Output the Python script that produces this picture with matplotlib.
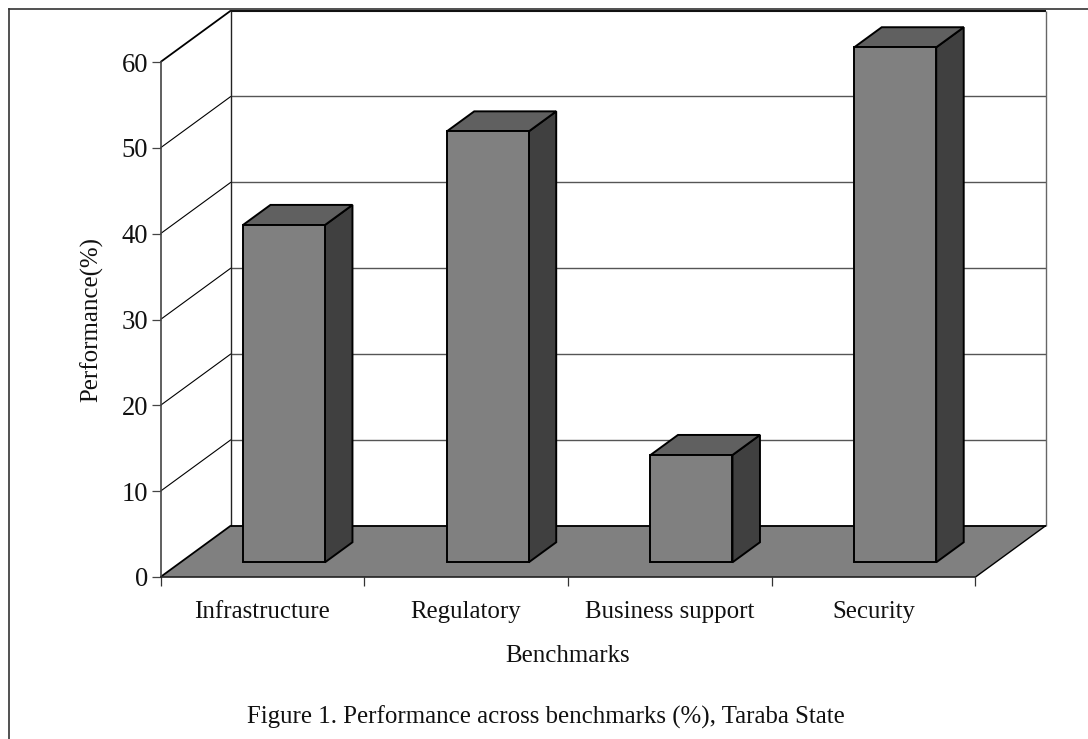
import matplotlib
matplotlib.use("Agg")
import matplotlib.pyplot as plt
from matplotlib.lines import Line2D
from matplotlib.patches import Polygon

categories = ["Infrastructure", "Regulatory", "Business support", "Security"]
values = [39.3, 50.2, 12.5, 60]
y_ticks = [0, 10, 20, 30, 40, 50, 60]

W, H = 1088, 739
plt.rcParams["font.family"] = ["Liberation Serif", "DejaVu Serif"]
fig = plt.figure(figsize=(W / 100, H / 100), dpi=100, facecolor="white")

L, R, T, B = 160.5, 975.5, 62, 577
ax = fig.add_axes([L / W, 1 - B / H, (R - L) / W, (B - T) / H])
ax.set_xlim(0, len(categories))
ax.set_ylim(0, 60)
ax.patch.set_alpha(0)

ppx = len(categories) / (R - L)
ppy = 60 / (B - T)
DX, DY = 70.5 * ppx, 51.5 * ppy      # full depth of the box in data units
top = y_ticks[-1]
n = len(categories)


def at(x, y, f):
    return (x + DX * f, y + DY * f)


# floor
ax.add_patch(Polygon([at(0, 0, 0), at(n, 0, 0), at(n, 0, 1), at(0, 0, 1)],
                     closed=True, fc="#808080", ec="none", zorder=1, clip_on=False))
lk = dict(clip_on=False, solid_capstyle="butt")
# floor outline
ax.plot(*zip(at(0, 0, 0), at(0, 0, 1)), color="black", lw=1.3, zorder=2, **lk)
ax.plot(*zip(at(0, 0, 1), at(n, 0, 1)), color="black", lw=1.3, zorder=2, **lk)
ax.plot(*zip(at(n, 0, 0), at(n, 0, 1)), color="black", lw=1.0, zorder=2, **lk)
# back wall and side wall grid
for v in y_ticks[1:]:
    ax.plot(*zip(at(0, v, 0), at(0, v, 1)), color="black", lw=1.3 if v == top else 0.8, zorder=1, **lk)
    ax.plot(*zip(at(0, v, 1), at(n, v, 1)), color="#111111" if v == top else "#555555",
            lw=1.5 if v == top else 1.0, zorder=1, **lk)
ax.plot(*zip(at(0, 0, 1), at(0, top, 1)), color="#222222", lw=1.0, zorder=1, **lk)
ax.plot(*zip(at(n, 0, 1), at(n, top, 1)), color="#666666", lw=1.0, zorder=1, **lk)

# bars
bar_w = 82 * ppx
F0, F1 = 0.285, 0.675
for i, v in enumerate(values):
    c = i + 0.5
    x0 = c - bar_w / 2 + 1.5 * ppx
    x1 = x0 + bar_w
    fx, fy = at(0, 0, F0)
    ax.bar(x0 + fx, v, width=bar_w, bottom=fy, align="edge", color="#808080",
           edgecolor="black", lw=1.4, zorder=5, clip_on=False)
    d = F1 - F0
    ax.add_patch(Polygon([(x1 + fx, fy), (x1 + fx + DX * d, fy + DY * d),
                          (x1 + fx + DX * d, fy + v + DY * d), (x1 + fx, fy + v)],
                         closed=True, fc="#404040", ec="black", lw=1.4, zorder=4, clip_on=False))
    ax.add_patch(Polygon([(x0 + fx, fy + v), (x1 + fx, fy + v),
                          (x1 + fx + DX * d, fy + v + DY * d), (x0 + fx + DX * d, fy + v + DY * d)],
                         closed=True, fc="#606060", ec="black", lw=1.4, zorder=4, clip_on=False))

# axes
for s in ["top", "right"]:
    ax.spines[s].set_visible(False)
ax.spines["left"].set_color("#444444")
ax.spines["left"].set_linewidth(1.2)
ax.spines["bottom"].set_color("#222222")
ax.spines["bottom"].set_linewidth(1.2)
ax.spines["left"].set_zorder(3)
ax.spines["bottom"].set_zorder(3)
ax.set_yticks(y_ticks)
ax.set_yticklabels([str(v) for v in y_ticks], fontsize=19.2)
ax.tick_params(axis="y", length=6.5, width=0.9, color="#444444", pad=2.5, labelcolor="#111111")
ax.set_xticks(range(n + 1))
ax.set_xticklabels([])
ax.tick_params(axis="x", length=6.5, width=0.9, color="#333333")
for i, name in enumerate(categories):
    ax.annotate(name, xy=(i + 0.5, 0), xycoords=("data", "axes fraction"),
                xytext=(0, -(612 - B) * 0.72), textcoords="offset points",
                ha="center", va="center", fontsize=17.9, color="#111111")

fig.text(568 / W, 1 - 656 / H, "Benchmarks", ha="center", va="center", fontsize=17.9, color="#111111")
fig.text(92 / W, 1 - 320 / H, "Performance(%)", ha="center", va="center", rotation=90,
         fontsize=17.9, color="#111111")
fig.text(546 / W, 1 - 717 / H, "Figure 1. Performance across benchmarks (%), Taraba State",
         ha="center", va="center", fontsize=17.9, color="#111111")

# outer frame (only top and left are visible)
fig.add_artist(Line2D([8.5 / W, 8.5 / W], [0, 1 - 9 / H], color="#333333", lw=1.2))
fig.add_artist(Line2D([8.5 / W, 1], [1 - 9 / H, 1 - 9 / H], color="#333333", lw=1.2))

fig.savefig("out.png", dpi=100)
